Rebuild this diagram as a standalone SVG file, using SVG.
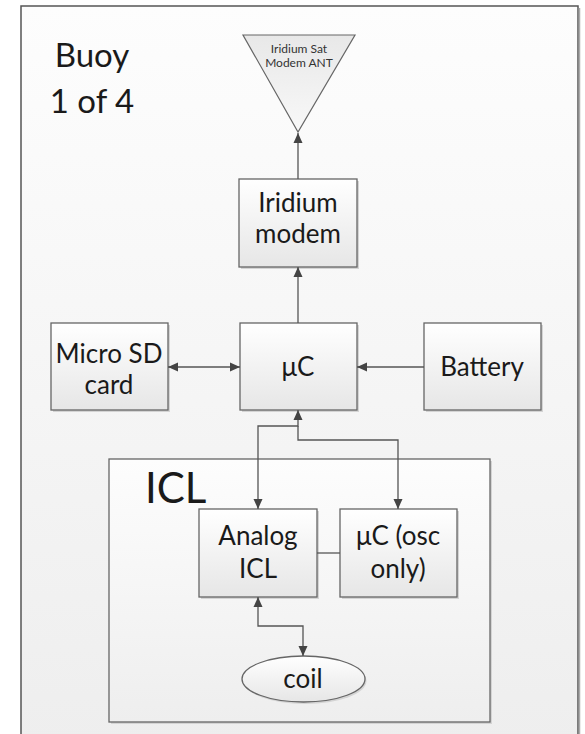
<svg xmlns="http://www.w3.org/2000/svg" width="585" height="734" viewBox="0 0 585 734">
<defs>
<linearGradient id="bg" x1="0" y1="0" x2="0" y2="1">
<stop offset="0" stop-color="#fdfdfd"/>
<stop offset="1" stop-color="#eeeeee"/>
</linearGradient>
<linearGradient id="box" x1="0" y1="0" x2="0" y2="1">
<stop offset="0" stop-color="#ffffff"/>
<stop offset="1" stop-color="#e6e6e6"/>
</linearGradient>
<linearGradient id="tri" x1="0" y1="0" x2="0" y2="1">
<stop offset="0" stop-color="#e8e8e8"/>
<stop offset="1" stop-color="#f8f8f8"/>
</linearGradient>
<marker id="arr" viewBox="0 0 10 10" refX="10" refY="5" markerWidth="10" markerHeight="10" markerUnits="userSpaceOnUse" orient="auto-start-reverse">
<path d="M0,0.5 L10,5 L0,9.5 z" fill="#444"/>
</marker>
</defs>
<style>
.node rect.b{fill:url(#box);stroke:#666;stroke-width:1.3}
.sh{fill:#d4d4d4}
.t{font-family:Lato,"Liberation Sans",sans-serif;font-size:26px;fill:#1a1a1a;text-anchor:middle}
.c{fill:none;stroke:#555;stroke-width:1.3}
</style>
<rect x="21" y="6" width="557" height="740" fill="url(#bg)" stroke="#555" stroke-width="1.5"/>
<line x1="579.5" y1="8" x2="579.5" y2="734" stroke="#aaa" stroke-width="1.5"/>
<g id="title">
<text class="t" x="92" y="67" style="font-size:33px">Buoy</text>
<text class="t" x="92" y="113" style="font-size:33px">1 of 4</text>
</g>
<g id="antenna" class="node">
<polygon points="243,35 355,35 298,132" fill="url(#tri)" stroke="#666" stroke-width="1.2"/>
<text class="t" x="299" y="53" style="font-size:12px;fill:#333">Iridium Sat</text>
<text class="t" x="299" y="67" style="font-size:12px;fill:#333">Modem ANT</text>
</g>
<g id="iridium" class="node">
<rect class="sh" x="241" y="181" width="118" height="88"/>
<rect class="b" x="239" y="179" width="118" height="88"/>
<text class="t" x="298" y="212">Iridium</text>
<text class="t" x="298" y="243">modem</text>
</g>
<g id="microsd" class="node">
<rect class="sh" x="53" y="325" width="117" height="87"/>
<rect class="b" x="51" y="323" width="117" height="87"/>
<text class="t" x="109" y="363">Micro SD</text>
<text class="t" x="109" y="394">card</text>
</g>
<g id="uc" class="node">
<rect class="sh" x="242" y="325" width="117" height="87"/>
<rect class="b" x="240" y="323" width="117" height="87"/>
<text class="t" x="298" y="376">μC</text>
</g>
<g id="battery" class="node">
<rect class="sh" x="426" y="325" width="117" height="87"/>
<rect class="b" x="424" y="323" width="117" height="87"/>
<text class="t" x="482" y="376">Battery</text>
</g>
<g id="icl" class="node">
<rect class="sh" x="111" y="461" width="381" height="263"/>
<rect class="b" x="109" y="459" width="381" height="263" style="fill:url(#bg)"/>
<text class="t" x="145" y="503" style="font-size:42px;text-anchor:start">ICL</text>
</g>
<g id="analog" class="node">
<rect class="sh" x="201" y="511" width="118" height="88"/>
<rect class="b" x="199" y="509" width="118" height="88"/>
<text class="t" x="258" y="545">Analog</text>
<text class="t" x="258" y="578">ICL</text>
</g>
<g id="ucosc" class="node">
<rect class="sh" x="342" y="511" width="117" height="88"/>
<rect class="b" x="340" y="509" width="117" height="88"/>
<text class="t" x="398" y="545">μC (osc</text>
<text class="t" x="398" y="578">only)</text>
</g>
<g id="coil" class="node">
<ellipse cx="305" cy="681" rx="61.5" ry="23" fill="#d4d4d4"/>
<ellipse cx="303.5" cy="679" rx="61.5" ry="23" fill="url(#box)" stroke="#666" stroke-width="1.3"/>
<text class="t" x="303" y="688">coil</text>
</g>
<g id="connectors">
<line class="c" x1="298" y1="179" x2="298" y2="133" marker-end="url(#arr)"/>
<line class="c" x1="298" y1="323" x2="298" y2="267" marker-end="url(#arr)"/>
<line class="c" x1="168" y1="367" x2="240" y2="367" marker-start="url(#arr)" marker-end="url(#arr)"/>
<line class="c" x1="424" y1="367" x2="357" y2="367" marker-end="url(#arr)"/>
<path class="c" d="M258,509 V426 H298 V410" marker-start="url(#arr)" marker-end="url(#arr)"/>
<path class="c" d="M398,509 V440 H298 V426" marker-start="url(#arr)"/>
<line class="c" x1="317" y1="553" x2="340" y2="553"/>
<path class="c" d="M258,597 V626 H303 V656" marker-start="url(#arr)" marker-end="url(#arr)"/>
</g>
</svg>
